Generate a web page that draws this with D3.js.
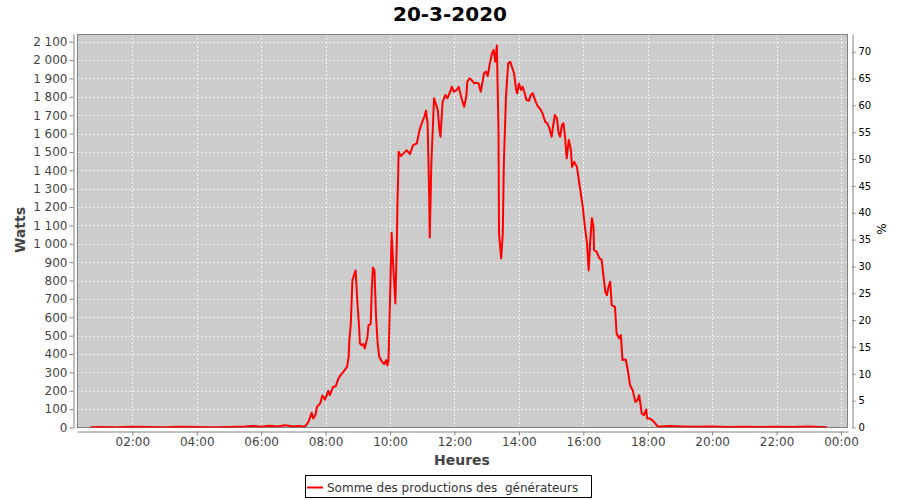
<!DOCTYPE html>
<html>
<head>
<meta charset="utf-8">
<script src="https://cdn.jsdelivr.net/npm/d3@7/dist/d3.min.js"></script>
<style>
  body { margin: 0; background: #ffffff; }
  svg { display: block; font-family: "DejaVu Sans", sans-serif; }
</style>
</head>
<body>
<svg id="chart" width="900" height="500"></svg>
<script>
// ---------------- DATA ----------------
const chartTitle = "20-3-2020";
const seriesName = "Somme des productions des  générateurs";
const yLeftLabel = "Watts";
const yRightLabel = "%";
const xLabel = "Heures";

const times = [
  "00:42","01:00","01:30","02:00","02:30","03:00","03:30","04:00","04:30","05:00",
  "05:30","05:45","06:00","06:15","06:30","06:45","07:00","07:10","07:18",
  "07:22","07:28","07:34","07:37","07:41","07:44","07:50","07:54","07:59","08:05",
  "08:08","08:14","08:19","08:24","08:28","08:33","08:40","08:43","08:44","08:47",
  "08:50","08:55","08:56","08:59","09:02","09:04","09:07","09:10","09:13","09:18",
  "09:20","09:24","09:26","09:28","09:31","09:34","09:37","09:40","09:44","09:49",
  "09:53","09:55","09:57","09:58","10:03","10:06","10:10","10:13","10:14","10:15",
  "10:16","10:20","10:25","10:31","10:37","10:43","10:50","10:55","10:59","11:04",
  "11:07","11:10","11:13","11:14","11:17","11:22","11:26","11:29","11:32","11:34",
  "11:38","11:43","11:47","11:52","11:55","11:59","12:04","12:08","12:14","12:18",
  "12:22","12:24","12:28","12:32","12:37","12:41","12:45","12:49","12:53","12:55",
  "12:59","13:02","13:06","13:10","13:13","13:16","13:19","13:22","13:23","13:27",
  "13:30","13:32","13:36","13:40","13:44","13:47","13:51","13:55","13:57","14:00",
  "14:04","14:07","14:11","14:14","14:19","14:22","14:26","14:30","14:34","14:40",
  "14:44","14:49","14:53","14:57","15:01","15:04","15:07","15:11","15:14","15:17",
  "15:20","15:23","15:26","15:29","15:33","15:37","15:39","15:43","15:48","15:53",
  "15:59","16:03","16:07","16:10","16:13","16:16","16:19","16:20","16:25","16:30",
  "16:34","16:37","16:41","16:44","16:47","16:50","16:53","16:59","17:02","17:07",
  "17:10","17:13","17:19","17:23","17:27","17:32","17:37","17:41","17:44","17:49",
  "17:53","17:57","17:59","18:04","18:10","18:14","18:18","18:23","18:40","19:00",
  "19:30","20:00","20:30","21:00","21:30","22:00","22:30","23:00","23:34"
];
const watts = [
  2,3,2,4,3,2,4,3,2,3,
  5,8,4,10,5,12,6,8,5,
  7,30,80,49,67,112,131,174,152,199,
  176,221,225,267,285,303,330,385,466,566,
  802,847,855,693,566,457,448,454,430,494,
  557,563,748,870,857,603,457,385,363,345,
  367,338,360,457,1060,875,675,1057,1238,1347,
  1501,1477,1492,1510,1488,1537,1547,1619,1656,1692,
  1724,1656,1256,1035,1438,1792,1755,1728,1619,1583,
  1773,1810,1792,1828,1855,1828,1837,1855,1783,1746,
  1800,1882,1901,1891,1873,1877,1873,1828,1891,1928,
  1937,1913,1982,2037,2055,1991,2080,1619,1057,920,
  1057,1438,1800,1982,1991,1964,1928,1837,1819,1873,
  1837,1855,1819,1783,1779,1810,1819,1783,1755,1732,
  1710,1664,1656,1628,1583,1646,1701,1683,1601,1583,
  1646,1656,1583,1465,1565,1510,1419,1447,1420,1320,
  1201,1092,1002,855,1020,1140,1092,966,956,920,
  915,839,738,720,766,793,666,657,512,485,
  503,367,370,312,230,203,139,149,176,76,
  67,98,49,49,36,22,7,5,8,6,
  4,5,3,4,3,4,3,5,2
];

const xTickLabels = ["02:00","04:00","06:00","08:00","10:00","12:00","14:00","16:00","18:00","20:00","22:00","00:00"];
const yLeftTicks = [0,100,200,300,400,500,600,700,800,900,1000,1100,1200,1300,1400,1500,1600,1700,1800,1900,2000,2100];
const yRightTicks = [0,5,10,15,20,25,30,35,40,45,50,55,60,65,70];

// ---------------- LAYOUT ----------------
const plot = { left: 77, right: 848, top: 34, bottom: 427.5 };
const svg = d3.select("#chart");

const toDate = (s, nextDay) => {
  const [h, m] = s.split(":").map(Number);
  return new Date(2020, 2, nextDay ? 21 : 20, h, m);
};
const data = times.map((t, i) => ({ t: toDate(t, false), w: watts[i] }));
const xTickDates = xTickLabels.map(s => toDate(s, s === "00:00"));

const x = d3.scaleTime()
  .domain([new Date(2020, 2, 20, 0, 17), new Date(2020, 2, 21, 0, 13)])
  .range([plot.left, plot.right]);
const y = d3.scaleLinear().domain([0, 2142]).range([plot.bottom, plot.top]);
const y2 = d3.scaleLinear().domain([0, 73.3]).range([plot.bottom, plot.top]);

// Title
svg.append("text").attr("x", 450).attr("y", 21).attr("text-anchor", "middle")
  .attr("font-size", 20).attr("font-weight", "bold").attr("fill", "#000")
  .text(chartTitle);

// Plot background
svg.append("rect").attr("x", plot.left).attr("y", plot.top)
  .attr("width", plot.right - plot.left).attr("height", plot.bottom - plot.top)
  .attr("fill", "#cccccc");

// Grid lines
const grid = svg.append("g");
grid.selectAll("line.h").data(yLeftTicks).enter().append("line")
  .attr("x1", plot.left).attr("x2", plot.right)
  .attr("y1", d => Math.round(y(d)) + 0.5).attr("y2", d => Math.round(y(d)) + 0.5)
  .attr("stroke", "#ffffff").attr("stroke-width", 0.8).attr("stroke-dasharray", "2,2");
grid.selectAll("line.v").data(xTickDates).enter().append("line")
  .attr("x1", d => Math.round(x(d)) + 0.5).attr("x2", d => Math.round(x(d)) + 0.5)
  .attr("y1", plot.top).attr("y2", plot.bottom)
  .attr("stroke", "#ffffff").attr("stroke-width", 0.8).attr("stroke-dasharray", "2,2");

// Plot border
svg.append("rect").attr("x", plot.left + 0.5).attr("y", plot.top + 0.5)
  .attr("width", plot.right - plot.left - 1).attr("height", plot.bottom - plot.top - 0.5)
  .attr("fill", "none").attr("stroke", "#808080").attr("stroke-width", 1);

// Series line
svg.append("clipPath").attr("id", "clip").append("rect")
  .attr("x", plot.left).attr("y", plot.top)
  .attr("width", plot.right - plot.left).attr("height", plot.bottom - plot.top);
const line = d3.line().x(d => x(d.t)).y(d => y(d.w));
svg.append("path").datum(data).attr("clip-path", "url(#clip)")
  .attr("d", line).attr("fill", "none").attr("stroke", "#ff0000")
  .attr("stroke-width", 2).attr("stroke-linejoin", "round");

// Axes
const fmtW = d => d3.format(",")(d).replace(",", " ");
const styleAxis = (g, color, size) => {
  g.select(".domain").attr("stroke", "#808080");
  g.selectAll(".tick line").attr("stroke", "#808080");
  g.selectAll(".tick text").attr("fill", color).attr("font-size", size)
    .attr("font-family", "DejaVu Sans");
};

const gL = svg.append("g").attr("transform", "translate(73.5,0)")
  .call(d3.axisLeft(y).tickValues(yLeftTicks).tickFormat(fmtW).tickSize(4).tickSizeOuter(0).tickPadding(2));
styleAxis(gL, "#444444", 12);

const gR = svg.append("g").attr("transform", "translate(852.5,0)")
  .call(d3.axisRight(y2).tickValues(yRightTicks).tickSize(3).tickSizeOuter(0).tickPadding(3));
styleAxis(gR, "#000000", 10);

const gB = svg.append("g").attr("transform", "translate(0,431.5)")
  .call(d3.axisBottom(x).tickValues(xTickDates).tickFormat(d3.timeFormat("%H:%M")).tickSize(4).tickSizeOuter(0).tickPadding(2));
styleAxis(gB, "#444444", 12);

// Axis labels
svg.append("text").attr("transform", "translate(25,230) rotate(-90)")
  .attr("text-anchor", "middle").attr("font-size", 14).attr("font-weight", "bold")
  .attr("fill", "#444444").text(yLeftLabel);
svg.append("text").attr("transform", "translate(886,229) rotate(-90)")
  .attr("text-anchor", "middle").attr("font-size", 12)
  .attr("fill", "#000000").text(yRightLabel);
svg.append("text").attr("x", 462).attr("y", 465).attr("text-anchor", "middle")
  .attr("font-size", 14).attr("font-weight", "bold").attr("fill", "#444444").text(xLabel);

// Legend
const lg = svg.append("g");
lg.append("rect").attr("x", 305.5).attr("y", 475.5).attr("width", 286).attr("height", 22)
  .attr("fill", "#ffffff").attr("stroke", "#000000").attr("stroke-width", 1);
lg.append("line").attr("x1", 307).attr("x2", 323).attr("y1", 487.5).attr("y2", 487.5)
  .attr("stroke", "#ff0000").attr("stroke-width", 2);
lg.append("text").attr("x", 327).attr("y", 491.5).attr("font-size", 12)
  .attr("fill", "#333333").attr("xml:space", "preserve").style("white-space", "pre")
  .text(seriesName);
</script>
</body>
</html>
